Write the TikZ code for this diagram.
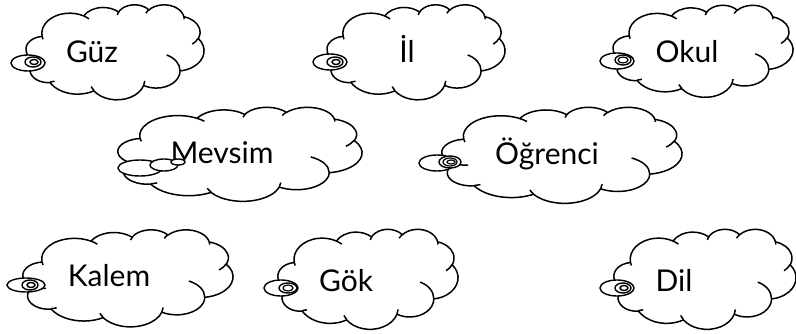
\documentclass[tikz,border=0pt]{standalone}
\usepackage{fontspec}
\setmainfont{Lato}
% one puff of the cloud outline: x radius, y radius, start, sweep (seen angles)
\newcommand\ooarc[4]{%
  \pgfextra{%
    \pgfmathsetmacro\oastart{atan2(#1*sin(#3),#2*cos(#3))}%
    \pgfmathsetmacro\oaend{atan2(#1*sin(#3+#4),#2*cos(#3+#4))}%
    \pgfmathsetmacro\oaend{\oaend+360*((#4>0)*(\oaend<\oastart))}%
  }
  arc[start angle=\oastart, end angle=\oaend, x radius=#1, y radius=#2]}
\begin{document}
\begin{tikzpicture}[x=1pt,y=-1pt,
  cloudline/.style={draw=black, line width=1.5pt, line join=round},
  word/.style={anchor=base, font=\fontsize{30}{33}\selectfont},
  ring/.style={draw=black, line width=1.4pt, fill=white}]
\useasboundingbox (0,0) rectangle (796,334);

% clouds: centre x / centre y / width / height
\foreach \cx/\cy/\cw/\ch in {115/52/178/95, 416/52/178/95, 703/51/180/92,
    240/154/244/94, 562/155/240/96,
    128/278/210/97, 368/279/180/100, 705/279/182/100}{
  \begin{scope}[shift={(\cx-\cw/2,\cy-\ch/2)}, xscale=\cw/43.2, yscale=\ch/43.2]
    \draw[cloudline, fill=white] (3.9,14.37)
      \ooarc{6.753}{9.190}{-190.48748}{123.78053}
      \ooarc{5.333}{7.267}{-144.10238}{89.94523}
      \ooarc{4.365}{5.945}{-145.80792}{99.72302}
      \ooarc{4.857}{6.595}{-130.98607}{117.24173}
      \ooarc{5.333}{7.273}{-78.70888}{109.02692}
      \ooarc{6.775}{9.220}{-46.26725}{130.269}
      \ooarc{5.785}{7.867}{0.62502}{114.03333}
      \ooarc{6.752}{9.215}{22.4516}{115.17255}
      \ooarc{7.720}{10.543}{66.24263}{75.71102}
      \ooarc{4.360}{5.918}{-274.94208}{146.73557}
      \ooarc{4.345}{5.945}{-246.8285}{152.51885} -- cycle;
    \draw[cloudline]
      (4.693,26.177) \ooarc{4.345}{5.945}{86.742}{26.4295}
      (6.928,34.899) \ooarc{4.360}{5.918}{73.61047}{11.44747}
      (16.478,39.090) \ooarc{6.752}{9.215}{137.62415}{14.0811}
      (28.827,34.751) \ooarc{6.752}{9.215}{6.45327}{15.99835}
      (34.129,22.954) \ooarc{5.785}{7.867}{-70.29235}{70.91737}
      (41.798,15.354) \ooarc{5.333}{7.273}{30.31803}{27.7515}
      (38.324,5.426) \ooarc{4.857}{6.595}{-13.74433}{14.8589}
      (29.078,3.952) \ooarc{4.857}{6.595}{-149.18145}{18.19537}
      (22.141,4.720) \ooarc{4.365}{5.945}{-163.49427}{17.68635}
      (14.000,5.192) \ooarc{6.753}{9.190}{-66.70695}{12.31935}
      (4.127,15.789) \ooarc{6.753}{9.190}{157.65435}{11.85817};
  \end{scope}
}

\node[word] (guz) at (92,63) {Güz};
\node[word] (il) at (407,63) {İl};
\node[word] (okul) at (687,63) {Okul};
\node[word] (mevsim) at (222,164) {Mevsim};
\node[word] (ogrenci) at (547,165) {Öğrenci};
\node[word] (kalem) at (109,286) {Kalem};
\node[word] (gok) at (346,291) {Gök};
\node[word] (dil) at (674,291) {Dil};

% tails
\draw[ring] (28,63) ellipse (17 and 8);
\draw[ring] (33,62) ellipse (8 and 5);
\draw[ring] (34,62) ellipse (4 and 2.5);

\draw[ring] (330,62) ellipse (17 and 8);
\draw[ring] (335,62) ellipse (8 and 5);
\draw[ring] (336,62) ellipse (4 and 2.5);

\draw[ring] (617,61) ellipse (17 and 8);
\draw[ring] (623,60) ellipse (8 and 5);
\draw[line width=1.2pt] (623,60) ellipse (5 and 3);

\draw[ring] (140,168) ellipse (22 and 8);
\draw[ring] (164,165) ellipse (14 and 6);
\draw[ring] (178,162) ellipse (7 and 3);

\draw[ring] (437,163) ellipse (18 and 8);
\draw[ring] (450,162) ellipse (11 and 6);
\draw[line width=1.2pt] (450,162) ellipse (7 and 4);
\draw[line width=1.2pt] (451,162) ellipse (4 and 2);

\draw[ring] (26,285) ellipse (19 and 7);
\draw[ring] (30,285) ellipse (8 and 5);
\draw[ring] (31,285) ellipse (4 and 2.5);

\draw[ring] (281,288) ellipse (17 and 8);
\draw[ring] (288,288) ellipse (9 and 5);
\draw[line width=1.2pt] (288,288) ellipse (5 and 3);

\draw[ring] (617,288) ellipse (17 and 8);
\draw[ring] (623,288) ellipse (8 and 5);
\draw[ring] (624,288) ellipse (4 and 2.5);
\end{tikzpicture}
\end{document}
